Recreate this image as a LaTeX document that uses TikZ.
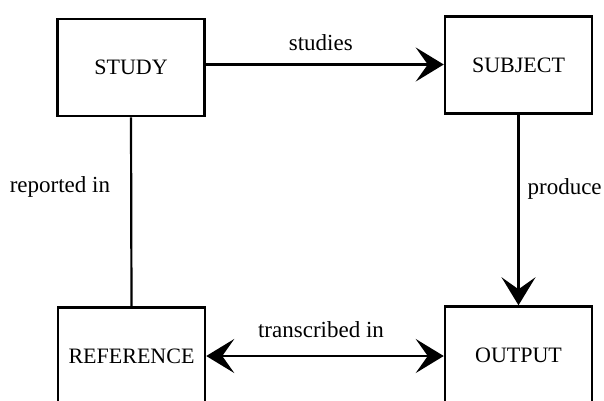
\documentclass[tikz,border=0pt]{standalone}
\usepackage{fontspec}
\setmainfont{Liberation Serif}
\usetikzlibrary{arrows.meta}
\begin{document}
\begin{tikzpicture}[x=1pt,y=-1pt,
  entity/.style={draw, line width=2.5pt, minimum width=147pt, minimum height=97pt,
                 inner sep=0pt, font=\fontsize{22}{24}\selectfont},
  link/.style={line width=2.2pt},
  bigtip/.style={-{Stealth[length=28pt,width=34pt,inset=12pt]}},
  bothtips/.style={{Stealth[length=28pt,width=34pt,inset=12pt]}-{Stealth[length=28pt,width=34pt,inset=12pt]}},
  lbl/.style={font=\fontsize{23}{25}\selectfont, inner sep=0pt}]
  \useasboundingbox (0,0) rectangle (604,400);
  \clip (0,0) rectangle (604,400);

  % entities
  \node[entity] (study)     at (131,67.5)  {STUDY};
  \node[entity] (subject)   at (518.5,65)  {SUBJECT};
  \node[entity] (reference) at (131.5,356) {REFERENCE};
  \node[entity] (output)    at (518.5,355) {OUTPUT};

  % relationships
  \draw[link,bigtip] ([yshift=3pt]study.east) -- ([yshift=3pt]study.east -| subject.west)
    node[lbl, midway, above=13pt, xshift=-4pt] {studies};
  \draw[link] (study.south) -- (reference.north)
    node[lbl, pos=0.37, left=20pt] {reported in};
  \draw[link,bigtip] (subject.south) -- (output.north)
    node[lbl, pos=0.39, right=8pt] {produce};
  \draw[link,bothtips] (reference.east) -- (reference.east -| output.west)
    node[lbl, midway, above=17pt, xshift=-4pt] {transcribed in};
\end{tikzpicture}
\end{document}
